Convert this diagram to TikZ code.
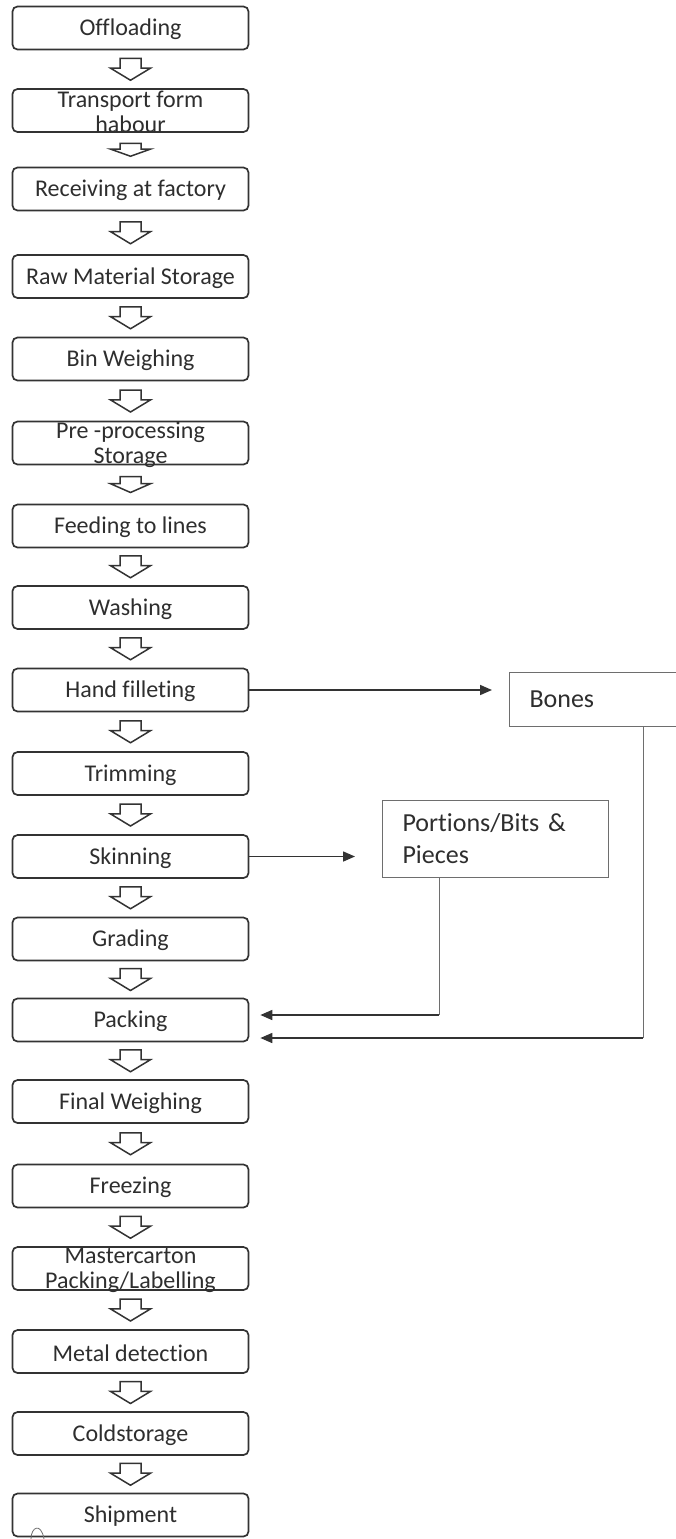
\documentclass[tikz,border=0pt]{standalone}
\usepackage{fontspec}
\setmainfont{Carlito}[Ligatures={NoCommon,NoContextual}]
\usetikzlibrary{arrows.meta}
\definecolor{inkc}{HTML}{333333}
\definecolor{textc}{HTML}{2E2E2E}
\definecolor{sidec}{HTML}{6E6E6E}
\begin{document}
\begin{tikzpicture}[x=1pt,y=-1pt,
  stepbox/.style={draw=inkc, line width=1.7pt, rounded corners=5pt,
    minimum width=236pt, minimum height=43pt, inner sep=0pt},
  steptext/.style={font=\fontsize{24}{25}\selectfont, text=textc,
    align=center, inner sep=0pt, yshift=-1.5pt},
  sidebox/.style={draw=sidec, line width=1pt, anchor=north west,
    inner xsep=20pt, align=left, text=textc,
    font=\fontsize{26}{32}\selectfont},
  flowarrow/.style={draw=inkc, line width=1.6pt,
    -{Triangle[length=12pt,width=10pt]}},
  sideline/.style={draw=sidec, line width=0.9pt},
  blockline/.style={draw=inkc, line width=1.5pt, fill=white, line join=miter},
  pics/blockdown/.style={code={
    \pgfmathsetmacro\hh{#1/2}
    \pgfmathsetmacro\hd{\hh-0.55*#1}
    \draw[blockline] (-10.5,-\hh) -- (10.5,-\hh) -- (10.5,\hd) -- (20,\hd)
      -- (0,\hh) -- (-20,\hd) -- (-10.5,\hd) -- cycle;
  }},
  pics/blockdown/.default=22
]
\useasboundingbox (0,0) rectangle (676,1539);

% main process column
\node[stepbox, label={[steptext]center:Offloading}] (s1) at (130.5,28) {};
\node[stepbox, label={[steptext]center:{Transport form\\habour}}] (s2) at (130.5,110.5) {};
\node[stepbox, label={[steptext]center:Receiving at factory}] (s3) at (130.5,189) {};
\node[stepbox, label={[steptext]center:Raw Material Storage}] (s4) at (130.5,276.5) {};
\node[stepbox, label={[steptext]center:Bin Weighing}] (s5) at (130.5,359) {};
\node[stepbox, label={[steptext]center:{Pre -processing\\Storage}}] (s6) at (130.5,443) {};
\node[stepbox, label={[steptext]center:Feeding to lines}] (s7) at (130.5,526) {};
\node[stepbox, label={[steptext]center:Washing}] (s8) at (130.5,607.5) {};
\node[stepbox, label={[steptext]center:Hand filleting}] (s9) at (130.5,690) {};
\node[stepbox, label={[steptext]center:Trimming}] (s10) at (130.5,773.5) {};
\node[stepbox, label={[steptext]center:Skinning}] (s11) at (130.5,856.5) {};
\node[stepbox, label={[steptext]center:Grading}] (s12) at (130.5,939) {};
\node[stepbox, label={[steptext]center:Packing}] (s13) at (130.5,1020) {};
\node[stepbox, label={[steptext]center:Final Weighing}] (s14) at (130.5,1101.5) {};
\node[stepbox, label={[steptext]center:Freezing}] (s15) at (130.5,1186) {};
\node[stepbox, label={[steptext]center:{Mastercarton\\Packing/Labelling}}] (s16) at (130.5,1268.5) {};
\node[stepbox, label={[steptext]center:Metal detection}] (s17) at (130.5,1351.5) {};
\node[stepbox, label={[steptext]center:Coldstorage}] (s18) at (130.5,1433.5) {};
\node[stepbox, label={[steptext]center:Shipment}] (s19) at (130.5,1515) {};

% hollow block arrows between consecutive steps
\foreach \i/\h in {1/22,2/13,3/22,4/22,5/22,6/16,7/22,8/22,9/22,10/22,
                   11/22,12/22,13/22,14/22,15/22,16/22,17/22,18/22} {
  \pgfmathtruncatemacro\j{\i+1}
  \path (s\i.south) -- (s\j.north) coordinate[pos=0.5] (g\i);
  \pic at (g\i) {blockdown=\h};
}

% by-product boxes
\node[sidebox, text width=140pt, minimum height=54pt] (bones) at (509,672) {Bones};
\node[sidebox, text width=186pt, minimum height=77pt] (parts) at (382,800) {\raisebox{-3pt}{Portions/Bits \&}\\\raisebox{-3pt}{Pieces}};

% side streams out and back to packing
\draw[flowarrow, shorten >=17pt] (s9.east) -- (s9.east -| bones.west);
\draw[flowarrow, shorten >=27pt] (s11.east) -- (s11.east -| parts.west);

\coordinate (pdrop) at (439,877);
\coordinate (pturn) at (439,1015);
\draw[sideline] (pdrop) -- (pturn);
\draw[flowarrow, shorten >=11pt] (pturn) -- (pturn -| s13.east);

\coordinate (bdrop) at (643,726);
\coordinate (bturn) at (643,1038);
\draw[sideline] (bdrop) -- (bturn);
\draw[flowarrow, shorten >=11pt] (bturn) -- (bturn -| s13.east);

% pen mark at the lower left corner
\draw[draw=sidec, line width=0.8pt] (31,1539) .. controls (31,1527) and (41,1522) .. (44,1539);
\end{tikzpicture}
\end{document}
